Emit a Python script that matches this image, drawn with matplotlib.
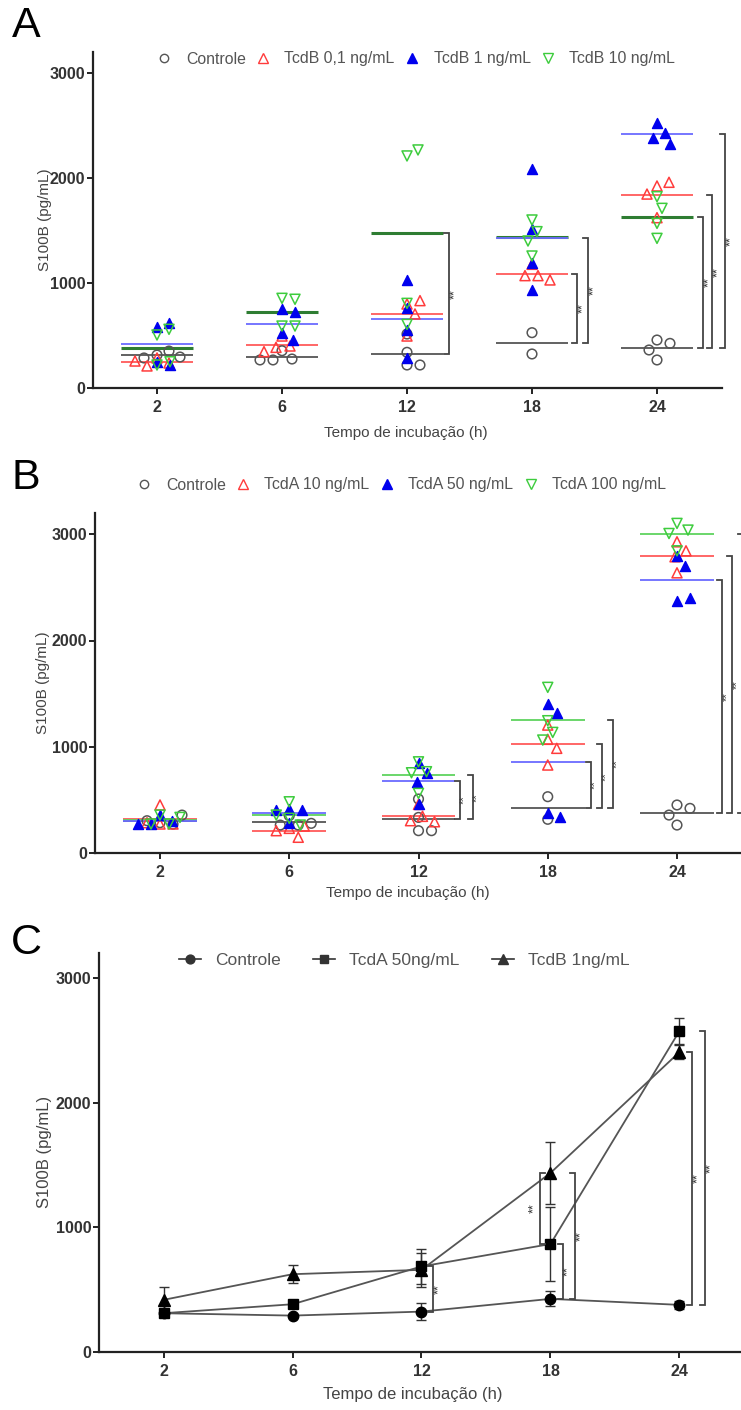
import numpy as np
import matplotlib
matplotlib.use("Agg")
import matplotlib.pyplot as plt
from matplotlib.lines import Line2D

plt.rcParams['font.family'] = ['Liberation Sans', 'DejaVu Sans']

# ---------------- DATA ----------------
times = ["2", "6", "12", "18", "24"]

# Panel A (TcdB) - individual values per time point
a_labels = ["Controle", "TcdB 0,1 ng/mL", "TcdB 1 ng/mL", "TcdB 10 ng/mL"]
a_controle = [[314, 352, 286, 295], [355, 276, 267, 267], [514, 340, 219, 219],
              [527, 324], [457, 425, 362, 267]]
a_tcdb01 = [[286, 238, 210, 257], [495, 400, 387, 346], [800, 832, 705, 495],
            [1178, 1070, 1070, 1029], [1924, 1959, 1622, 1847]]
a_tcdb1 = [[578, 616, 250, 219], [749, 727, 521, 457], [1029, 765, 552, 283],
           [2089, 1511, 1187, 933], [2527, 2432, 2378, 2321]]
a_tcdb10 = [[505, 559, 219, 250], [854, 845, 590, 590], [2210, 2267, 806, 606],
            [1600, 1489, 1400, 1257], [1822, 1711, 1568, 1425]]

# Panel B (TcdA)
b_labels = ["Controle", "TcdA 10 ng/mL", "TcdA 50 ng/mL", "TcdA 100 ng/mL"]
b_controle = [[285, 272, 304, 357], [351, 263, 263, 279], [508, 335, 210, 210],
              [530, 317], [452, 420, 357, 263]]
b_tcda10 = [[452, 273, 273, 285], [232, 148, 210, 254], [457, 345, 304, 294],
            [1204, 1070, 985, 828], [2929, 2844, 2788, 2637]]
b_tcda50 = [[357, 304, 273, 273], [411, 405, 405, 279], [844, 749, 671, 461],
            [1402, 1320, 373, 335], [2794, 2700, 2374, 2396]]
b_tcda100 = [[357, 273, 273, 335], [482, 326, 263, 357], [858, 765, 755, 561],
             [1559, 1245, 1135, 1063], [3102, 3039, 2844, 3007]]

# Panel C (mean +/- SEM)
c_labels = ["Controle", "TcdA 50ng/mL", "TcdB 1ng/mL"]
c_controle_mean = [311, 292, 324, 426, 378]
c_controle_err = [18, 15, 68, 60, 32]
c_tcda50_mean = [311, 383, 686, 866, 2575]
c_tcda50_err = [18, 20, 140, 293, 102]
c_tcdb1_mean = [418, 624, 659, 1436, 2406]
c_tcdb1_err = [107, 70, 135, 249, 54]

# significance brackets: (time index, group index vs control, x offset in px, show stars)
a_brackets = [(2, 3, 42, True), (3, 1, 45, True), (3, 2, 56, True), (4, 3, 46, True),
              (4, 1, 55, True), (4, 2, 68, True)]
b_brackets = [(2, 2, 41, True), (2, 3, 54, True), (3, 2, 43, True), (3, 1, 54, True),
              (3, 3, 65, True), (4, 2, 45, True), (4, 1, 55, True), (4, 3, 66, False)]
# (time index, upper series, lower series, x offset px, side)
c_brackets = [(2, 1, 0, 12, 'r'), (3, 2, 1, -10, 'l'), (3, 1, 0, 12, 'r'),
              (3, 2, 0, 25, 'r'), (4, 2, 0, 13, 'r'), (4, 1, 0, 26, 'r')]

# ---------------- STYLE ----------------
W, H = 741, 1410
fig = plt.figure(figsize=(W / 100, H / 100), dpi=100)

GRAY = '#555555'
RED = '#ff3b3b'
BLUE = '#0000ee'
GREEN = '#3dcc3d'
TXT = '#444444'


def make_axes(left, right, top, bottom, cat0, spacing):
    ax = fig.add_axes([left / W, 1 - bottom / H, (right - left) / W, (bottom - top) / H])
    ax.set_xlim((left - cat0) / spacing, (right - cat0) / spacing)
    ax.set_ylim(0, 3200)
    for s in ['top', 'right']:
        ax.spines[s].set_visible(False)
    for s in ['left', 'bottom']:
        ax.spines[s].set_linewidth(1.6)
        ax.spines[s].set_color('#222222')
    ax.set_xticks(range(len(times)))
    ax.set_xticklabels(times)
    ax.set_yticks([0, 1000, 2000, 3000])
    ax.tick_params(axis='both', direction='out', length=4.5, width=1.4, colors='#222222',
                   labelcolor='#333333', labelsize=11.5)
    ax.tick_params(axis='y', pad=1)
    ax.tick_params(axis='x', pad=4)
    for lbl in ax.get_xticklabels() + ax.get_yticklabels():
        lbl.set_fontweight('bold')
    ax.patch.set_alpha(0)
    return ax


def swarm(vals, ppu_y, d_px, spacing):
    placed, offs = [], []
    for v in vals:
        y = v * ppu_y
        k = 0
        found = None
        while found is None:
            cands = [0] if k == 0 else [k, -k]
            for c in cands:
                if all((c - px) ** 2 + (y - py) ** 2 >= d_px ** 2 for px, py in placed):
                    found = c
                    break
            k += 1
        placed.append((found, y))
        offs.append(found / spacing)
    return offs


def scatter_panel(ax, groups, ppu_y, spacing, line_colors, line_widths, half):
    styles = [dict(marker='o', facecolors='none', edgecolors=GRAY, s=48, linewidths=1.1),
              dict(marker='^', facecolors='none', edgecolors=RED, s=52, linewidths=1.1),
              dict(marker='^', facecolors=BLUE, edgecolors=BLUE, s=52, linewidths=1.0),
              dict(marker='v', facecolors='none', edgecolors=GREEN, s=52, linewidths=1.1)]
    means = [[float(np.mean(v)) for v in data] for data in groups]
    for g in [0, 1, 3, 2]:
        for i, m in enumerate(means[g]):
            ax.hlines(m, i - half, i + half, colors=line_colors[g], linewidth=line_widths[g], zorder=2)
    for g, data in enumerate(groups):
        for i, vals in enumerate(data):
            offs = swarm(vals, ppu_y, 12.5, spacing)
            ax.scatter(np.array(offs) + i, vals, zorder=3, clip_on=False, **styles[g])
    return means


def bracket(ax, x, top, bot, spacing, side='r', tick_px=5, star_px=6, fs=9, stars=True):
    t = tick_px / spacing * (1 if side == 'r' else -1)
    ax.plot([x - t, x, x, x - t], [top, top, bot, bot], color='#444444', lw=1.3,
            zorder=4, clip_on=False, solid_joinstyle='miter')
    if stars:
        sx = x + (star_px / spacing) * (1 if side == 'r' else -1)
        ax.text(sx, (top + bot) / 2, "**", rotation=90, ha='center', va='center',
                fontsize=fs, color='#333333')


# ---------------- PANEL A ----------------
spA = 125.0
axA = make_axes(93, 722, 52, 388, 157, spA)
meansA = scatter_panel(axA, [a_controle, a_tcdb01, a_tcdb1, a_tcdb10], 0.105, spA,
                       [GRAY, '#ff5a5a', '#6b6bff', '#2e7d32'], [1.3, 1.3, 1.3, 2.2], 0.29)
for (ti, gi, off, st) in a_brackets:
    bracket(axA, ti + off / spA, meansA[gi][ti], meansA[0][ti], spA, stars=st)

# ---------------- PANEL B ----------------
spB = 129.25
axB = make_axes(95, 775, 513, 853, 160, spB)
meansB = scatter_panel(axB, [b_controle, b_tcda10, b_tcda50, b_tcda100], 0.1063, spB,
                       [GRAY, '#ff5a5a', '#6b6bff', '#5fd35f'], [1.3, 1.3, 1.3, 1.3], 0.285)
for (ti, gi, off, st) in b_brackets:
    bracket(axB, ti + off / spB, meansB[gi][ti], meansB[0][ti], spB, star_px=4.5,
            fs=8, stars=st)

# ---------------- PANEL C ----------------
spC = 129.0
axC = make_axes(99, 775, 953, 1352, 163.5, spC)
xs = np.arange(len(times))
c_means = [c_controle_mean, c_tcda50_mean, c_tcdb1_mean]
c_errs = [c_controle_err, c_tcda50_err, c_tcdb1_err]
c_markers = [('o', 7.5), ('s', 7.5), ('^', 8)]
for k in range(3):
    axC.errorbar(xs, c_means[k], yerr=c_errs[k], fmt='none', ecolor='#333333',
                 elinewidth=1.0, capsize=3.5, capthick=1.0, zorder=3)
for k in range(3):
    axC.plot(xs, c_means[k], color='#555555', lw=1.3, zorder=2)
    axC.plot(xs, c_means[k], linestyle='none', marker=c_markers[k][0],
             ms=c_markers[k][1], color='black', zorder=4)
for (ti, up, lo, off, side) in c_brackets:
    bracket(axC, ti + off / spC, c_means[up][ti], c_means[lo][ti], spC, side=side,
            tick_px=5, star_px=6)

# ---------------- LEGENDS ----------------
def marker_handles(labels):
    return [Line2D([], [], linestyle='none', marker='o', markerfacecolor='none',
                   markeredgecolor=GRAY, ms=6, mew=1.0, label=labels[0]),
            Line2D([], [], linestyle='none', marker='^', markerfacecolor='none',
                   markeredgecolor=RED, ms=6.5, mew=1.0, label=labels[1]),
            Line2D([], [], linestyle='none', marker='^', markerfacecolor=BLUE,
                   markeredgecolor=BLUE, ms=6.5, label=labels[2]),
            Line2D([], [], linestyle='none', marker='v', markerfacecolor='none',
                   markeredgecolor=GREEN, ms=6.5, mew=1.0, label=labels[3])]


def place_legend(handles, x_left, y, fs, hl, htp, cs):
    leg = fig.legend(handles=handles, loc='center left',
                     bbox_to_anchor=(x_left / W, 1 - y / H), ncol=len(handles),
                     frameon=False, fontsize=fs, handlelength=hl, handletextpad=htp,
                     columnspacing=cs, borderpad=0, borderaxespad=0, labelcolor='#555555')
    return leg


place_legend(marker_handles(a_labels), 156.5, 59, 11.4, 1.0, 0.85, 0.6)
place_legend(marker_handles(b_labels), 136.5, 485, 11.4, 1.0, 0.85, 0.6)
c_handles = [Line2D([], [], color='#333333', lw=1.2, marker=m, ms=s * 0.85, label=l)
             for (m, s), l in zip(c_markers, c_labels)]
place_legend(c_handles, 178.5, 960, 12.5, 1.3, 0.8, 1.85)

# ---------------- TEXT ----------------
def ftext(x, y, s, **kw):
    fig.text(x / W, 1 - y / H, s, **kw)


for letter, y in [("A", 26), ("B", 478), ("C", 943)]:
    ftext(26, y, letter, fontsize=31, ha='center', va='center', color='black')

ftext(406, 433, "Tempo de incubação (h)", fontsize=11, ha='center', va='center', color=TXT)
ftext(408, 893, "Tempo de incubação (h)", fontsize=11, ha='center', va='center', color=TXT)
ftext(413, 1395, "Tempo de incubação (h)", fontsize=12, ha='center', va='center', color=TXT)
ftext(45, 220, "S100B (pg/mL)", fontsize=11, ha='center', va='center', rotation=90, color=TXT)
ftext(43, 683, "S100B (pg/mL)", fontsize=11, ha='center', va='center', rotation=90, color=TXT)
ftext(45, 1152, "S100B (pg/mL)", fontsize=12, ha='center', va='center', rotation=90, color=TXT)

fig.savefig("out.png", dpi=100)
